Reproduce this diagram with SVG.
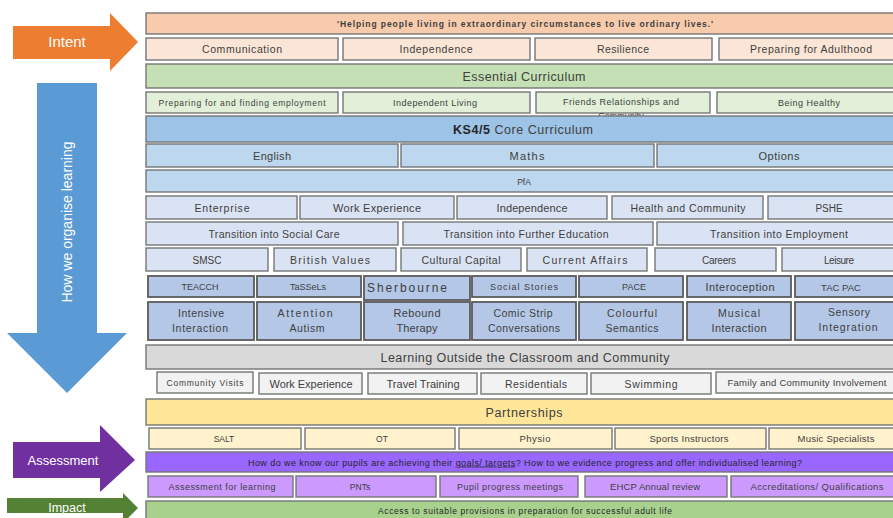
<svg xmlns="http://www.w3.org/2000/svg" width="893" height="518" viewBox="0 0 893 518">
<style>
rect{stroke:#767676;stroke-width:1.4}
rect.bg{stroke:none}
text{font-family:"Liberation Sans",Arial,sans-serif;fill:#404040;text-anchor:middle;font-size:10.5px}
.s{font-size:10px}
.m{font-size:11px}
.l{font-size:12.5px}
.w{fill:#fff;stroke:none}
.a{stroke:none}
.q{fill:#f8cbad}.v{fill:#fbe5d6}.eg{fill:#c5e0b4}.el{fill:#e2f0d9}
.ks{fill:#9dc3e6}.cb{fill:#bdd7ee}.lb{fill:#dae3f3}.db{fill:#b4c7e7;stroke:#5a5a5a;stroke-width:1.8}
.gr{fill:#d9d9d9}.lg{fill:#f2f2f2}.py{fill:#ffe699}.ly{fill:#fff2cc}
.pp{fill:#9966ff}.lp{fill:#cc99ff}.gg{fill:#a9d18e}
</style>
<rect class="bg" width="893" height="518" fill="#fff"/>
<g id="arrows">
<g id="intent"><polygon class="a" fill="#ed7d31" points="13,26 110,26 110,13 138,42 110,71 110,59 13,59"/><text class="w" x="67" y="47" style="font-size:15px">Intent</text></g>
<g id="organise"><polygon class="a" fill="#5b9bd5" points="37,83 97,83 97,333 127,333 67,393 7,333 37,333"/><text class="w" transform="translate(72,222) rotate(-90)" style="font-size:14px">How we organise learning</text></g>
<g id="assessment"><polygon class="a" fill="#7030a0" points="13,442 100,442 100,425 135,460 100,492 100,478 13,478"/><text class="w" x="63" y="465" style="font-size:13px">Assessment</text></g>
<g id="impact"><polygon class="a" fill="#548235" points="7,498 123,498 123,493 138,508 123,523 123,513 7,513"/><text class="w" x="67" y="512" style="font-size:12.5px">Impact</text></g>
</g>
<g id="connectors"></g>
<g id="quote"><rect class="q" x="146" y="13" width="760" height="21"/><text x="525" y="27" style="font-weight:bold;font-size:8.5px" textLength="376">'Helping people living in extraordinary circumstances to live ordinary lives.'</text></g>
<g id="communication"><rect class="v" x="146" y="38" width="192" height="22"/><text x="242" y="53" textLength="80">Communication</text></g>
<g id="independence1"><rect class="v" x="343" y="38" width="187" height="22"/><text x="436" y="53" textLength="73">Independence</text></g>
<g id="resilience"><rect class="v" x="535" y="38" width="177" height="22"/><text x="623" y="53" textLength="52">Resilience</text></g>
<g id="adulthood"><rect class="v" x="719" y="38" width="187" height="22"/><text x="811" y="53" textLength="122">Preparing for Adulthood</text></g>
<g id="essential"><rect class="eg" x="146" y="64" width="760" height="24"/><text class="l" x="524" y="80.5" textLength="123">Essential Curriculum</text></g>
<g id="employment"><rect class="el" x="146" y="92" width="192" height="21"/><text x="242" y="105.5" style="font-size:8.5px" textLength="167">Preparing for and finding employment</text></g>
<g id="living"><rect class="el" x="343" y="92" width="187" height="21"/><text x="435" y="105.5" style="font-size:9px" textLength="84">Independent Living</text></g>
<g id="friends"><rect class="el" x="536" y="92" width="174" height="21"/><text x="621" y="105" style="font-size:9px" textLength="116">Friends Relationships and</text><text x="621" y="118.5" style="font-size:9px">Community</text></g>
<g id="healthy"><rect class="el" x="717" y="92" width="189" height="21"/><text x="809" y="105.5" style="font-size:9px" textLength="62">Being Healthy</text></g>
<g id="ks45"><rect class="ks" x="146" y="116" width="760" height="26"/><text class="l" x="453" y="133.5" style="text-anchor:start" textLength="140"><tspan style="font-weight:bold;fill:#262626">KS4/5</tspan> Core Curriculum</text></g>
<g id="english"><rect class="cb" x="146" y="144" width="252" height="23"/><text class="m" x="272" y="159.5" textLength="38">English</text></g>
<g id="maths"><rect class="cb" x="401" y="144" width="253" height="23"/><text class="m" x="527" y="159.5" textLength="35">Maths</text></g>
<g id="options"><rect class="cb" x="657" y="144" width="249" height="23"/><text class="m" x="779" y="159.5" textLength="41">Options</text></g>
<g id="pfa"><rect class="cb" x="146" y="170" width="760" height="22"/><text x="524" y="184.5" style="font-size:8.5px">PfA</text></g>
<g id="enterprise"><rect class="lb" x="146" y="196" width="151" height="23"/><text x="222" y="211.5" textLength="55">Enterprise</text></g>
<g id="workexp1"><rect class="lb" x="300" y="196" width="154" height="23"/><text x="377" y="211.5" style="font-size:11px" textLength="88">Work Experience</text></g>
<g id="independence2"><rect class="lb" x="457" y="196" width="150" height="23"/><text x="532" y="211.5" style="font-size:11px" textLength="71">Independence</text></g>
<g id="healthcomm"><rect class="lb" x="612" y="196" width="151" height="23"/><text x="688" y="211.5" textLength="115">Health and Community</text></g>
<g id="pshe"><rect class="lb" x="768" y="196" width="138" height="23"/><text class="s" x="829" y="211.5">PSHE</text></g>
<g id="socialcare"><rect class="lb" x="146" y="222" width="252" height="23"/><text x="274" y="237.5" textLength="131">Transition into Social Care</text></g>
<g id="furthered"><rect class="lb" x="403" y="222" width="250" height="23"/><text x="526" y="237.5" textLength="165">Transition into Further Education</text></g>
<g id="intoemploy"><rect class="lb" x="657" y="222" width="249" height="23"/><text x="779" y="237.5" textLength="138">Transition into Employment</text></g>
<g id="smsc"><rect class="lb" x="146" y="248" width="122" height="23"/><text class="s" x="207" y="263.5">SMSC</text></g>
<g id="british"><rect class="lb" x="274" y="248" width="122" height="23"/><text x="330" y="263.5" textLength="80">British Values</text></g>
<g id="cultural"><rect class="lb" x="401" y="248" width="120" height="23"/><text x="461" y="263.5" textLength="79">Cultural Capital</text></g>
<g id="affairs"><rect class="lb" x="527" y="248" width="120" height="23"/><text x="585" y="263.5" textLength="85">Current Affairs</text></g>
<g id="careers"><rect class="lb" x="655" y="248" width="121" height="23"/><text class="s" x="719" y="263.5" textLength="34">Careers</text></g>
<g id="leisure"><rect class="lb" x="782" y="248" width="124" height="23"/><text class="s" x="839" y="263.5" textLength="30">Leisure</text></g>
<g id="teacch"><rect class="db" x="148" y="276" width="106" height="21"/><text x="200" y="290" style="font-size:9px">TEACCH</text></g>
<g id="tassels"><rect class="db" x="257" y="276" width="104" height="21"/><text x="308" y="290" style="font-size:9px">TaSSeLs</text></g>
<g id="sherbourne"><rect class="db" x="364" y="276" width="106" height="24"/><text x="407" y="291.5" style="font-size:12px" textLength="80">Sherbourne</text></g>
<g id="socialstories"><rect class="db" x="472" y="276" width="104" height="21"/><text x="524" y="290" style="font-size:9px" textLength="68">Social Stories</text></g>
<g id="pace"><rect class="db" x="579" y="276" width="104" height="21"/><text x="634" y="290" style="font-size:9px">PACE</text></g>
<g id="interoception"><rect class="db" x="687" y="276" width="104" height="21"/><text x="740" y="290.5" style="font-size:11px" textLength="69">Interoception</text></g>
<g id="tacpac"><rect class="db" x="795" y="276" width="111" height="21"/><text x="841" y="290.5" style="font-size:9.5px">TAC PAC</text></g>
<g id="intensive"><rect class="db" x="148" y="302" width="106" height="38"/><text x="201" y="317" textLength="46">Intensive</text><text x="200" y="332" textLength="56">Interaction</text></g>
<g id="attention"><rect class="db" x="257" y="302" width="104" height="38"/><text x="305" y="317" textLength="55">Attention</text><text x="307" y="332" textLength="35">Autism</text></g>
<g id="rebound"><rect class="db" x="364" y="302" width="106" height="38"/><text x="417" y="317" style="font-size:11px" textLength="47">Rebound</text><text x="417" y="332" style="font-size:11px" textLength="41">Therapy</text></g>
<g id="comicstrip"><rect class="db" x="472" y="302" width="104" height="38"/><text x="523" y="317" textLength="59">Comic Strip</text><text x="524" y="332" textLength="72">Conversations</text></g>
<g id="colourful"><rect class="db" x="579" y="302" width="104" height="38"/><text x="632" y="317" textLength="50">Colourful</text><text x="632" y="332" textLength="53">Semantics</text></g>
<g id="musical"><rect class="db" x="687" y="302" width="104" height="38"/><text x="739" y="317" textLength="42">Musical</text><text x="739" y="332" style="font-size:11px" textLength="55">Interaction</text></g>
<g id="sensory"><rect class="db" x="795" y="302" width="111" height="38"/><text x="849" y="316" textLength="42">Sensory</text><text x="848" y="331" textLength="59">Integration</text></g>
<g id="outside"><rect class="gr" x="146" y="345" width="760" height="24"/><text class="l" x="525" y="361.5" textLength="289">Learning Outside the Classroom and Community</text></g>
<g id="visits"><rect class="lg" x="157" y="372" width="96" height="21"/><text x="205" y="386" style="font-size:8.5px" textLength="77">Community Visits</text></g>
<g id="workexp2"><rect class="lg" x="259" y="373" width="103" height="21"/><text x="311" y="387.5" style="font-size:11px" textLength="83">Work Experience</text></g>
<g id="travel"><rect class="lg" x="368" y="373" width="109" height="21"/><text x="423" y="387.5" style="font-size:11px" textLength="73">Travel Training</text></g>
<g id="residentials"><rect class="lg" x="481" y="373" width="106" height="21"/><text x="536" y="387.5" textLength="62">Residentials</text></g>
<g id="swimming"><rect class="lg" x="591" y="373" width="120" height="21"/><text x="651" y="387.5" textLength="53">Swimming</text></g>
<g id="family"><rect class="lg" x="716" y="372" width="190" height="21"/><text x="807" y="386" style="font-size:9.5px" textLength="159">Family and Community Involvement</text></g>
<g id="partnerships"><rect class="py" x="146" y="399" width="760" height="26"/><text class="l" x="524" y="416.5" textLength="77">Partnerships</text></g>
<g id="salt"><rect class="ly" x="149" y="428" width="152" height="21"/><text x="224" y="441.5" style="font-size:8.5px">SALT</text></g>
<g id="ot"><rect class="ly" x="305" y="428" width="150" height="21"/><text x="382" y="441.5" style="font-size:8.5px">OT</text></g>
<g id="physio"><rect class="ly" x="459" y="428" width="153" height="21"/><text x="535" y="441.5" style="font-size:9.5px" textLength="31">Physio</text></g>
<g id="sports"><rect class="ly" x="615" y="428" width="151" height="21"/><text x="689" y="441.5" style="font-size:9.5px" textLength="79">Sports Instructors</text></g>
<g id="music"><rect class="ly" x="769" y="428" width="137" height="21"/><text x="836" y="441.5" style="font-size:9.5px" textLength="77">Music Specialists</text></g>
<g id="question"><rect class="pp" x="146" y="452" width="760" height="20"/><text x="525" y="465.5" style="font-size:9px;fill:#262626" textLength="554">How do we know our pupils are achieving their <tspan style="text-decoration:underline">goals/ targets</tspan>? How to we evidence progress and offer individualised learning?</text></g>
<g id="afl"><rect class="lp" x="148" y="476" width="145" height="21"/><text x="222" y="489.5" style="font-size:9px" textLength="107">Assessment for learning</text></g>
<g id="pnts"><rect class="lp" x="296" y="476" width="140" height="21"/><text x="360" y="489.5" style="font-size:8.5px">PNTs</text></g>
<g id="pupil"><rect class="lp" x="440" y="476" width="138" height="21"/><text x="510" y="489.5" style="font-size:9px" textLength="106">Pupil progress meetings</text></g>
<g id="ehcp"><rect class="lp" x="585" y="476" width="142" height="21"/><text x="655" y="489.5" style="font-size:9.5px" textLength="90">EHCP Annual review</text></g>
<g id="accreditations"><rect class="lp" x="731" y="476" width="175" height="21"/><text x="817" y="489.5" style="font-size:9.5px" textLength="133">Accreditations/ Qualifications</text></g>
<g id="access"><rect class="gg" x="146" y="501" width="760" height="20"/><text x="525" y="514" style="font-size:8.5px;fill:#262626" textLength="294">Access to suitable provisions in preparation for successful adult life</text></g>
</svg>
